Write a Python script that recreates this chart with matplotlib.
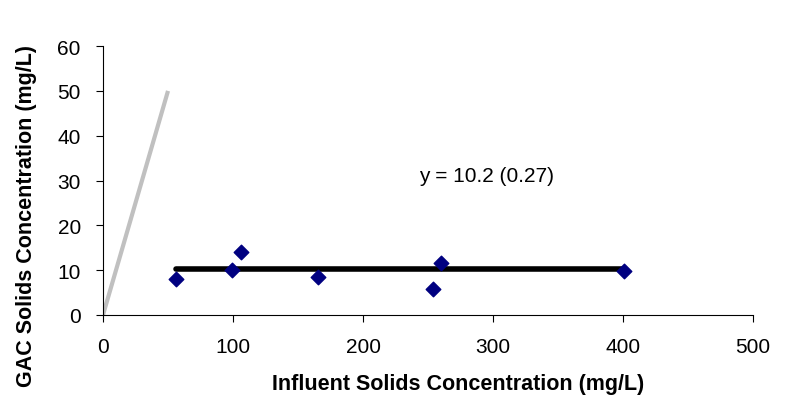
import numpy as np
import matplotlib.pyplot as plt

plt.rcParams['font.family'] = ['Liberation Sans', 'DejaVu Sans']

# influent vs GAC solids (mg/L)
influent = [56, 99, 106, 165, 254, 260, 401]
gac = [8.0, 10.0, 14.0, 8.5, 5.8, 11.6, 9.8]

mean_gac = 10.2
fit_x = [56, 400]
one_to_one = [0, 50]

fig = plt.figure(figsize=(7.88, 4.06), dpi=100)
ax = fig.add_axes([0.1307, 0.2217, 0.825, 0.6623])

ax.plot(one_to_one, one_to_one, color="#c0c0c0", lw=3, solid_capstyle='butt')
ax.plot(fit_x, [mean_gac, mean_gac], color="black", lw=4, solid_capstyle='round')
ax.scatter(influent, gac, marker="D", s=55, color="#000080", zorder=3)

ax.text(295, 31.2, "y = 10.2 (0.27)", fontsize=15, ha="center", va="center")

ax.set_xlim(0, 500)
ax.set_ylim(0, 60)
ax.set_xticks(np.arange(0, 501, 100))
ax.set_yticks(np.arange(0, 61, 10))
ax.tick_params(labelsize=15, length=5, direction="out", pad=11)
ax.spines["top"].set_visible(False)
ax.spines["right"].set_visible(False)

ax.set_xlabel("Influent Solids Concentration (mg/L)", fontsize=15.5, fontweight="bold")
ax.set_ylabel("GAC Solids Concentration (mg/L)", fontsize=15.5, fontweight="bold")
ax.xaxis.set_label_coords(0.546, -0.216)
ax.yaxis.set_label_coords(-0.1015, 0.372)

plt.savefig("out.png", dpi=100)
